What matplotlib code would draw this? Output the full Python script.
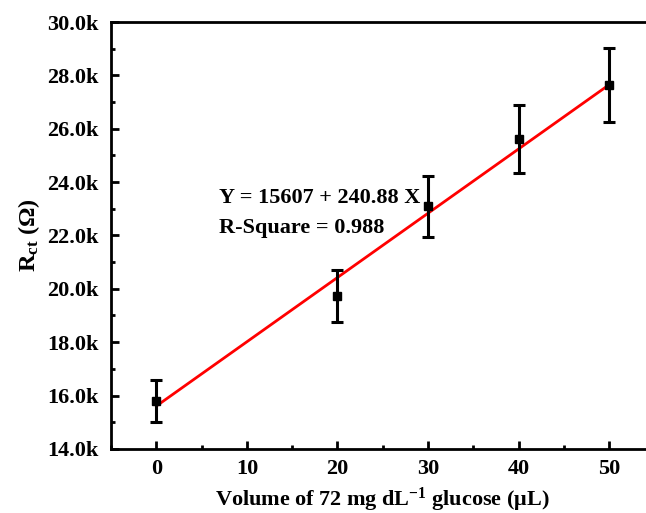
import numpy as np
import matplotlib
matplotlib.use("Agg")
import matplotlib.pyplot as plt
from matplotlib.ticker import FuncFormatter, MultipleLocator

# data
volume = [0, 20, 30, 40, 50]
rct = [15800, 19730, 23100, 25610, 27630]
rct_err = [790, 970, 1140, 1270, 1380]
intercept = 15607
slope = 240.88
r_square = 0.988

plt.rcParams['font.family'] = ['Liberation Serif', 'DejaVu Serif']
plt.rcParams['font.weight'] = 'bold'
plt.rcParams['mathtext.fontset'] = 'custom'
plt.rcParams['mathtext.rm'] = 'Liberation Serif:bold'
plt.rcParams['mathtext.bf'] = 'Liberation Serif:bold'
plt.rcParams['mathtext.it'] = 'Liberation Serif:bold'

fig = plt.figure(figsize=(6.46, 5.13), dpi=100)
ax = fig.add_axes([0.172, 0.125, 0.841, 0.832])

xfit = np.array([volume[0], volume[-1]])
ax.plot(xfit, intercept + slope * xfit, color='red', linewidth=2, zorder=2)
ax.errorbar(volume, rct, yerr=rct_err, fmt='s', color='black', markersize=6,
            elinewidth=2.2, capsize=4, capthick=2.2, zorder=3)

ax.set_xlim(-5, 55)
ax.set_ylim(14000, 30000)
ax.xaxis.set_major_locator(MultipleLocator(10))
ax.xaxis.set_minor_locator(MultipleLocator(5))
ax.yaxis.set_major_locator(MultipleLocator(2000))
ax.yaxis.set_minor_locator(MultipleLocator(1000))
ax.yaxis.set_major_formatter(FuncFormatter(lambda v, p: f"{v/1000:.1f}k"))

for s in ax.spines.values():
    s.set_linewidth(2)
ax.tick_params(which='both', direction='in', width=2, top=False, right=False,
               labelsize=16)
ax.tick_params(which='major', length=6)
ax.tick_params(which='minor', length=3)
ax.tick_params(axis='x', pad=7)
ax.tick_params(axis='y', pad=9)

ax.set_xlabel(r'Volume of 72 mg dL$^{\mathbf{-1}}$ glucose ($\mathbf{\mu}$L)',
              fontsize=16, fontweight='bold', labelpad=5)
ax.set_ylabel(r'R$_{\mathbf{ct}}$ ($\mathbf{\Omega}$)', fontsize=17.5,
              fontweight='bold', labelpad=4)

ax.text(6.9, 23400, f"Y = {intercept} + {slope} X", fontsize=16,
        fontweight='bold', va='center')
ax.text(6.9, 22280, f"R-Square = {r_square}", fontsize=16,
        fontweight='bold', va='center')

fig.savefig("out.png", dpi=100)
